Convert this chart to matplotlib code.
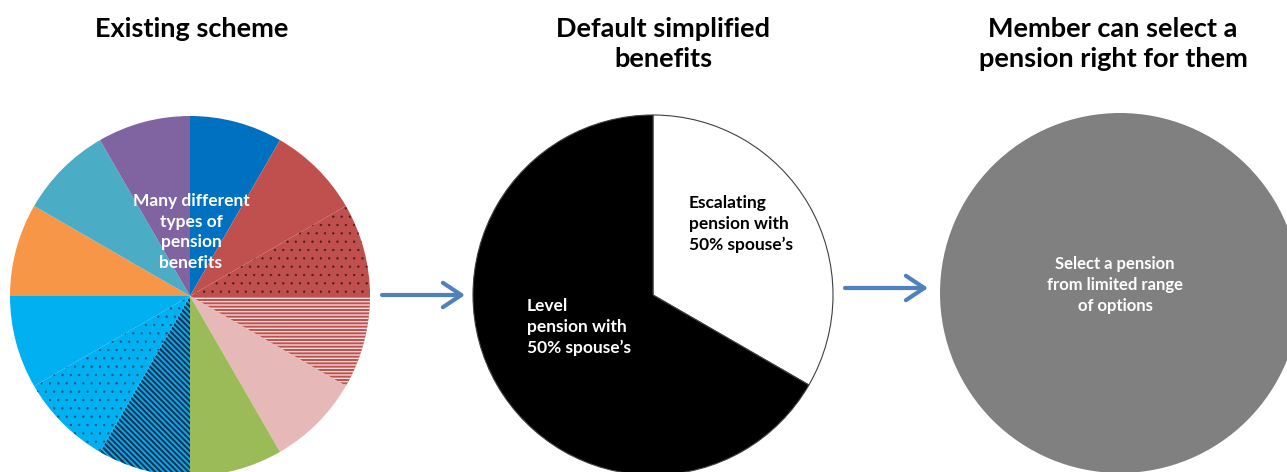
import matplotlib.pyplot as plt
from matplotlib.patches import FancyArrowPatch

plt.rcParams['font.family'] = ['Lato', 'DejaVu Sans']
plt.rcParams['hatch.linewidth'] = 1.0

W, H = 1287, 472

# panel titles
titles = ['Existing scheme', 'Default simplified\nbenefits', 'Member can select a\npension right for them']

# existing scheme: twelve equal benefit types
scheme_sizes = [1, 1, 1, 1, 1, 1, 1, 1, 1, 1, 1, 1]
scheme_colors = ['#0070C0', '#C0504D', '#C0504D', '#C0504D', '#E6B9B8', '#9BBB59',
                 '#00B0F0', '#00B0F0', '#00B0F0', '#F79646', '#4BACC6', '#8064A2']
scheme_hatches = [None, None, '..', '-----', None, None,
                  '\\\\\\\\\\\\', '..', None, None, None, None]
scheme_hatch_colors = ['none', 'none', '#4a1a1a', '#F2DCDB', 'none', 'none',
                       '#1B3050', '#1F4E79', 'none', 'none', 'none', 'none']
scheme_hatch_widths = [1, 1, 0.4, 1.0, 1, 1, 1.5, 0.4, 1, 1, 1, 1]
scheme_label = 'Many different\ntypes of\npension\nbenefits'

# default simplified benefits
default_sizes = [1, 2]
default_colors = ['white', 'black']
default_labels = ["Escalating\npension with\n50% spouse\u2019s", "Level\npension with\n50% spouse\u2019s"]

# member choice
choice_sizes = [1]
choice_colors = ['#808080']
choice_label = 'Select a pension\nfrom limited range\nof options'

fig = plt.figure(figsize=(W / 100, H / 100), dpi=100)
ax = fig.add_axes([0, 0, 1, 1])

# pie 1
wedges, _ = ax.pie(scheme_sizes, colors=scheme_colors, startangle=90, counterclock=False,
                   center=(190, H - 296), radius=180, wedgeprops=dict(linewidth=0))
for w, h, hc, hw in zip(wedges, scheme_hatches, scheme_hatch_colors, scheme_hatch_widths):
    if h:
        w.set_hatch(h)
        w.set_edgecolor(hc)
        if hasattr(w, 'set_hatch_linewidth'):
            w.set_hatch_linewidth(hw)
        else:
            w._hatch_linewidth = hw
ax.text(191, H - 232, scheme_label, color='white', fontsize=12.5, fontweight='bold',
        ha='center', va='center', linespacing=1.35)

# pie 2
ax.pie(default_sizes, colors=default_colors, startangle=90, counterclock=False,
       center=(653, H - 295), radius=180,
       wedgeprops=dict(edgecolor='#404040', linewidth=0.8))
ax.text(689, H - 224, default_labels[0], color='black', fontsize=12.5, fontweight='bold',
        ha='left', va='center', linespacing=1.35)
ax.text(527, H - 327, default_labels[1], color='white', fontsize=12.5, fontweight='bold',
        ha='left', va='center', linespacing=1.35)

# pie 3
ax.pie(choice_sizes, colors=choice_colors, startangle=90, counterclock=False,
       center=(1120, H - 293), radius=180, wedgeprops=dict(linewidth=0))
ax.text(1115, H - 285, choice_label, color='white', fontsize=12, fontweight='bold',
        ha='center', va='center', linespacing=1.4)

# arrows
for x0, x1, y in [(382, 465, 295), (845, 928, 288)]:
    ax.add_patch(FancyArrowPatch((x0, H - y), (x1, H - y), arrowstyle='->,head_length=6,head_width=4',
                                 color='#4F81BD', linewidth=3, mutation_scale=2.2,
                                 shrinkA=0, shrinkB=0))

# titles
for x, t in zip([192, 663, 1113], titles):
    ax.text(x, H - 17, t, fontsize=19.5, fontweight='bold', ha='center', va='top',
            linespacing=1.28)

ax.set_xlim(0, W)
ax.set_ylim(0, H)
ax.set_aspect('equal')
ax.axis('off')

fig.savefig('out.png', dpi=100)
